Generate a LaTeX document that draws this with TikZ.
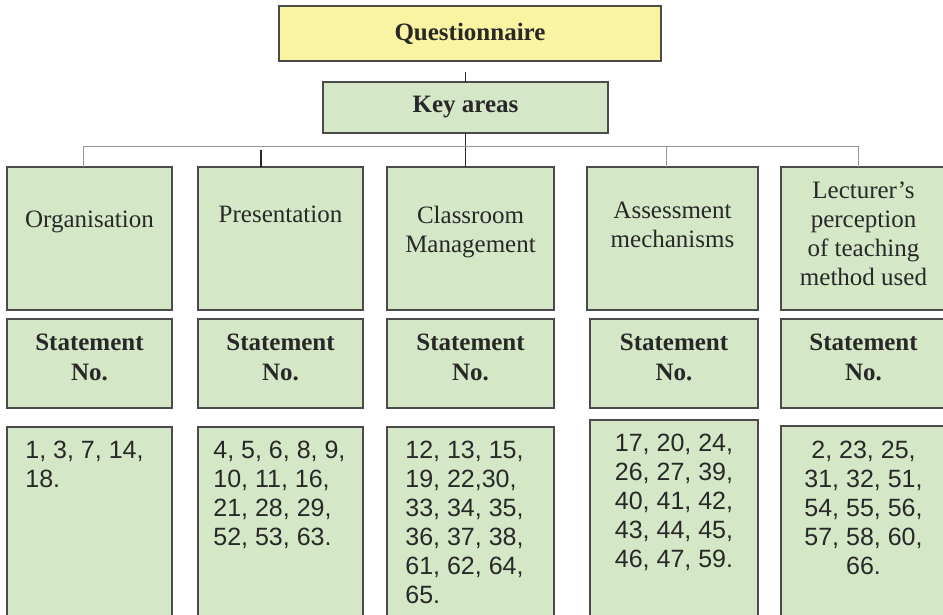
\documentclass[tikz,border=0pt]{standalone}
\usepackage{fontspec}
\setmainfont{Liberation Serif}
\setsansfont{Liberation Sans}
\usepackage{tikz}
\usetikzlibrary{positioning}
\definecolor{titlefill}{RGB}{250,244,162}
\definecolor{areafill}{RGB}{212,231,199}
\definecolor{boxline}{RGB}{75,75,75}
\definecolor{textdark}{RGB}{40,40,40}
\definecolor{treegray}{RGB}{150,150,150}
\tikzset{
    block/.style={
        rectangle,
        draw=boxline,
        line width=0.8pt,
        fill=areafill,
        inner sep=0pt,
        outer sep=0pt
    },
    titleblock/.style={
        block,
        fill=titlefill,
        text=textdark,
        font=\fontsize{12.5}{14.5}\selectfont\bfseries
    },
    areablock/.style={
        block,
        minimum height=71.5pt
    },
    stblock/.style={
        block,
        minimum height=44.5pt
    },
    numblock/.style={
        block,
        minimum height=100pt
    },
    areatext/.style={
        inner sep=0pt,
        align=center,
        text=textdark,
        font=\fontsize{12.5}{14.5}\selectfont
    },
    sttext/.style={
        areatext,
        font=\fontsize{12.5}{15}\selectfont\bfseries
    },
    numtext/.style={
        inner sep=0pt,
        text=textdark,
        font=\fontsize{12.5}{14.5}\selectfont\sffamily
    },
    treeline/.style={
        draw=treegray,
        line width=0.5pt
    },
    stemline/.style={
        draw=textdark,
        line width=0.6pt
    }
}

\begin{document}
\begin{tikzpicture}[node distance=10pt]
\useasboundingbox (0,0) rectangle (471.5pt,-307.5pt);
\clip (0,0) rectangle (471.5pt,-307.5pt);

% Title and key areas
\node[titleblock, minimum width=191pt, minimum height=27.5pt, anchor=north west] (quest) at (139.5pt,-3pt) {Questionnaire};
\node[titleblock, fill=areafill, minimum width=142.5pt, minimum height=25.5pt, below=10.5pt of quest, xshift=-2.25pt] (key) {Key areas};

% Area boxes
\node[areablock, minimum width=82.5pt, anchor=north west] (org) at (3.5pt,-83.5pt) {};
\node[areablock, minimum width=82.5pt, right=13pt of org] (pres) {};
\node[areablock, minimum width=83.5pt, right=12pt of pres] (cls) {};
\node[areablock, minimum width=85.5pt, right=16.5pt of cls] (assess) {};
\node[areablock, minimum width=82.5pt, right=11.5pt of assess] (lect) {};

\node[areatext, below=22pt of org.north] (orgname) {Organisation};
\node[areatext, below=19.5pt of pres.north] (presname) {Presentation};
\node[areatext, below=19.5pt of cls.north] (clsname) {Classroom\\Management};
\node[areatext, below=17.5pt of assess.north] (assessname) {Assessment\\mechanisms};
\node[areatext, below=7pt of lect.north] (lectname) {Lecturer's\\perception\\of teaching\\method used};

% Statement headers
\node[stblock, minimum width=82.5pt, below=4.5pt of org] (orgst) {};
\node[stblock, minimum width=82.5pt, below=4.5pt of pres] (presst) {};
\node[stblock, minimum width=83.5pt, below=4.5pt of cls] (clsst) {};
\node[stblock, minimum width=84pt, below=4.5pt of assess, xshift=0.75pt] (assessst) {};
\node[stblock, minimum width=82.5pt, below=4.5pt of lect] (lectst) {};

\node[sttext, below=7.5pt of orgst.north] (orgsttxt) {Statement\\No.};
\node[sttext, below=7.5pt of presst.north] (pressttxt) {Statement\\No.};
\node[sttext, below=7.5pt of clsst.north] (clssttxt) {Statement\\No.};
\node[sttext, below=7.5pt of assessst.north] (assesssttxt) {Statement\\No.};
\node[sttext, below=7.5pt of lectst.north] (lectsttxt) {Statement\\No.};

% Statement numbers
\node[numblock, minimum width=82.5pt, below=9.5pt of orgst] (orgnum) {};
\node[numblock, minimum width=82.5pt, below=9.5pt of presst] (presnum) {};
\node[numblock, minimum width=83.5pt, below=9.5pt of clsst] (clsnum) {};
\node[numblock, minimum width=84pt, below=6pt of assessst] (assessnum) {};
\node[numblock, minimum width=82.5pt, below=9pt of lectst] (lectnum) {};

\node[numtext, align=left, below right=7pt and 9pt of orgnum.north west] (orglist) {1, 3, 7, 14,\\18.};
\node[numtext, align=left, below right=7pt and 7.5pt of presnum.north west] (preslist) {4, 5, 6, 8, 9,\\10, 11, 16,\\21, 28, 29,\\52, 53, 63.};
\node[numtext, align=left, below right=7pt and 9pt of clsnum.north west] (clslist) {12, 13, 15,\\19, 22,30,\\33, 34, 35,\\36, 37, 38,\\61, 62, 64,\\65.};
\node[numtext, align=center, below=7pt of assessnum.north] (assesslist) {17, 20, 24,\\26, 27, 39,\\40, 41, 42,\\43, 44, 45,\\46, 47, 59.};
\node[numtext, align=center, below=7.5pt of lectnum.north] (lectlist) {2, 23, 25,\\31, 32, 51,\\54, 55, 56,\\57, 58, 60,\\66.};

% Connections
\draw[stemline] ([yshift=-5.5pt]quest.south -| key.north) -- (key.north);
\draw[stemline] (key.south) -- (key.south |- cls.north);
\draw[treeline] ([xshift=-3.25pt]org.north) -- ++(0,10pt) -| ([xshift=-2.75pt]lect.north);
\draw[treeline] ([xshift=-3.25pt]assess.north) -- ++(0,10pt);
\draw[stemline] ([xshift=-9.75pt]pres.north) -- ++(0,8.5pt);

\end{tikzpicture}
\end{document}
